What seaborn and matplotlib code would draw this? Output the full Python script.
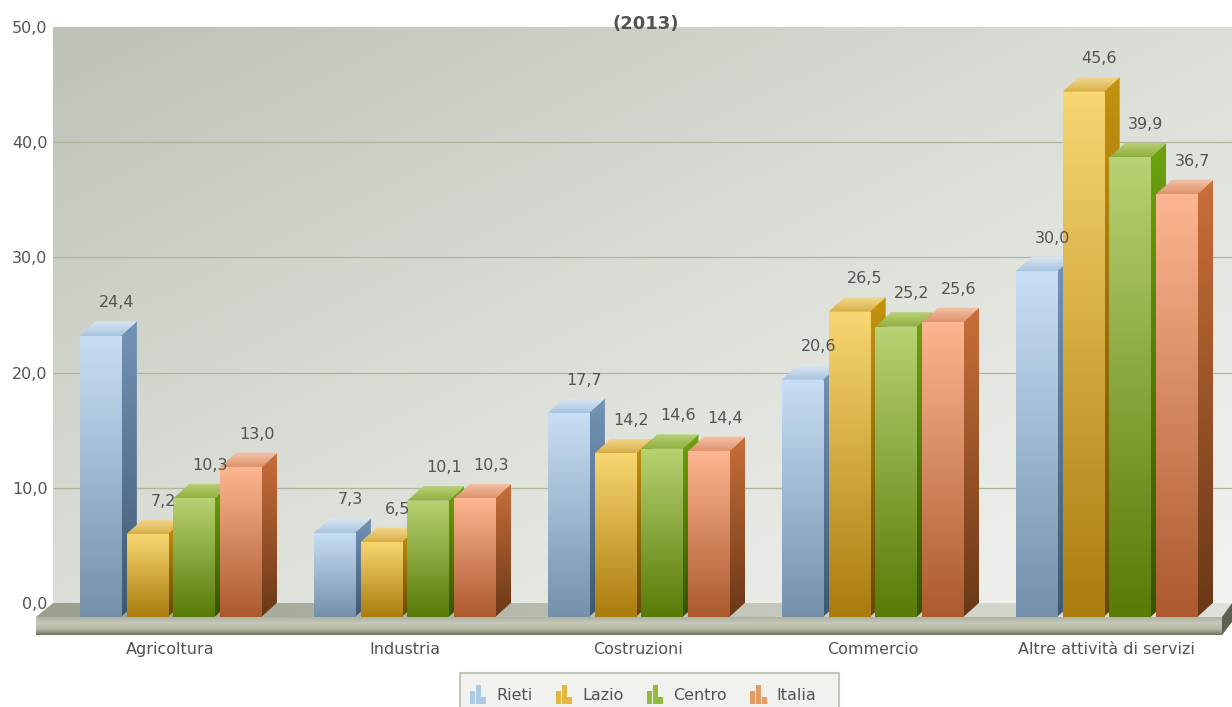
import numpy as np
import pandas as pd
import matplotlib
matplotlib.use("Agg")
import matplotlib.pyplot as plt
import seaborn as sns
from matplotlib.colors import LinearSegmentedColormap
from matplotlib.legend_handler import HandlerBase
from matplotlib.patches import Patch, Polygon, Rectangle

categories = ["Agricoltura", "Industria", "Costruzioni", "Commercio", "Altre attività di servizi"]
series_names = ["Rieti", "Lazio", "Centro", "Italia"]
rieti = [24.4, 7.3, 17.7, 20.6, 30.0]
lazio = [7.2, 6.5, 14.2, 26.5, 45.6]
centro = [10.3, 10.1, 14.6, 25.2, 39.9]
italia = [13.0, 10.3, 14.4, 25.6, 36.7]
y_ticks = [0, 10, 20, 30, 40, 50]
title_text = "(2013)"

# (face top, face bottom, side top, side bottom, roof front, roof back)
shades = {
    "Rieti": ("#c8def4", "#7590ab", "#7394b6", "#3f5870", "#a8c3dd", "#dbe8f5"),
    "Lazio": ("#f8d670", "#aa7c0e", "#c4930f", "#654900", "#d8ae45", "#f3da90"),
    "Centro": ("#b7d272", "#587b06", "#6ea20e", "#375300", "#8fb040", "#b9d078"),
    "Italia": ("#fdb691", "#ac5a2e", "#c96f3a", "#693817", "#dc946c", "#f6c2a8"),
}
TEXT = "#505452"
FONT_SIZE = 11.5
W, H = 1232, 707
PX_PER_UNIT = 11.52
GROUP_PX = 234.0
DEPTH_X_PX, DEPTH_Y_PX = 16.0, 14.5


def fig_rect(left, top, right, bottom):
    return [left / W, 1 - bottom / H, (right - left) / W, (bottom - top) / H]


def ramp(ax, c_start, c_end, extent, z, clip=None, horizontal=False):
    """Paint a two-colour gradient into extent, optionally clipped to a patch."""
    cmap = LinearSegmentedColormap.from_list("ramp", [c_start, c_end])
    g = np.linspace(0, 1, 128)
    g = g[None, :] if horizontal else g[:, None]
    im = ax.imshow(g, cmap=cmap, vmin=0, vmax=1, extent=extent, origin="upper",
                   aspect="auto", zorder=z, interpolation="bilinear")
    if clip is not None:
        im.set_clip_path(clip)
    return im


sns.set_style("white")
plt.rcParams["font.family"] = ["DejaVu Sans"]

long = pd.DataFrame({
    "categoria": categories * 4,
    "serie": np.repeat(series_names, 5),
    "valore": rieti + lazio + centro + italia,
})

fig = plt.figure(figsize=(W / 100, H / 100), dpi=100, facecolor="white")

# Back wall: diagonal shading, gridlines and the value axis
back = fig.add_axes(fig_rect(53, 27, 1232, 603), zorder=1)
u, v_grid = np.meshgrid(np.linspace(0, 1, 400), np.linspace(0, 1, 400))
wall_cmap = LinearSegmentedColormap.from_list("wall", ["#bcc2b7", "#dcdfd8", "#f2f3f0"], N=1024)
back.imshow((u + v_grid) / 2, cmap=wall_cmap, vmin=0, vmax=1, extent=(0, 1, 0, 50), aspect="auto",
            interpolation="bilinear", origin="upper", zorder=0)
back.set_xlim(0, 1)
back.set_ylim(0, 50)
back.set_yticks(y_ticks)
back.set_yticklabels([f"{t:.1f}".replace(".", ",") for t in y_ticks], color=TEXT, fontsize=FONT_SIZE)
back.set_xticks([])
back.tick_params(axis="y", length=0, pad=4)
for t in y_ticks[1:-1]:
    back.axhline(t, color="#afb59a", lw=0.9, zorder=1)
sns.despine(ax=back, left=True, bottom=True, right=True, top=True)
back.set_title(title_text, x=0.503, y=1.0047, va="center", fontsize=13,
               fontweight="bold", color=TEXT, pad=0)

# Floor slab and legend panel, laid out in figure pixels
floor = fig.add_axes([0, 0, 1, 1], zorder=2)
floor.axis("off")
slab = Polygon([(53, 603), (1232, 603), (1222, 617), (36, 617)], closed=True,
               transform=floor.transData, fc="none", ec="none")
floor.add_patch(slab)
ramp(floor, "#9b9f8e", "#dfe2da", (36, 1232, 617, 603), 1, clip=slab, horizontal=True)
band_cmap = LinearSegmentedColormap.from_list("band", ["#aeb29f", "#c6c9ba", "#b4b8a6", "#6d715c"])
floor.imshow(np.linspace(0, 1, 64)[:, None], cmap=band_cmap, extent=(36, 1222, 635, 617),
             aspect="auto", zorder=1, origin="upper", interpolation="bilinear")
floor.add_patch(Polygon([(1222, 617), (1232, 603), (1232, 622), (1222, 635)], closed=True,
                        fc="#5c6151", ec="none", zorder=2))
floor.add_patch(Rectangle((460, 673), 379, 50, fc="#f1f2ee", ec="#c3c7bb", lw=1.5, zorder=2))
floor.set_xlim(0, W)
floor.set_ylim(H, 0)

# Bars sit on the front plane of the floor, same scale as the wall
ax = fig.add_axes(fig_rect(36, 617 - 50 * PX_PER_UNIT, 1222, 617), zorder=3)
ax.patch.set_alpha(0)
sns.barplot(data=long, x="categoria", y="valore", hue="serie", order=categories,
            hue_order=series_names, palette=[shades[s][0] for s in series_names],
            width=0.8, gap=0.12, dodge=True, legend=False, ax=ax, errorbar=None,
            saturation=1)

dx = DEPTH_X_PX / GROUP_PX
dy = DEPTH_Y_PX / PX_PER_UNIT
for s_idx, (name, container) in enumerate(zip(series_names, ax.containers)):
    face_t, face_b, side_t, side_b, roof_f, roof_b = shades[name]
    z = 3 + s_idx
    for bar in container:
        x0, w, v = bar.get_x(), bar.get_width(), bar.get_height()
        x1 = x0 + w
        bar.set_zorder(z + 0.1)
        bar.set_edgecolor("none")

        side = Polygon([(x1, 0), (x1 + dx, dy), (x1 + dx, v + dy), (x1, v)], closed=True,
                       fc="none", ec="none", transform=ax.transData)
        ax.add_patch(side)
        ramp(ax, side_t, side_b, (x1, x1 + dx, 0, v + dy), z + 0.2, clip=side)

        roof = Polygon([(x0, v), (x1, v), (x1 + dx, v + dy), (x0 + dx, v + dy)], closed=True,
                       fc="none", ec="none", transform=ax.transData)
        ax.add_patch(roof)
        ramp(ax, roof_b, roof_f, (x0, x1 + dx, v, v + dy), z + 0.2, clip=roof)

        ramp(ax, face_t, face_b, (x0, x1, 0, v), z + 0.3, clip=bar)

        ax.annotate(f"{v:.1f}".replace(".", ","), (x0 + w / 2, v),
                    xytext=(16 * 0.72, 33 * 0.72), textcoords="offset points",
                    ha="center", va="center", fontsize=FONT_SIZE, color=TEXT, zorder=20)

ax.set_xlim((36 - 170.5) / GROUP_PX, (1222 - 170.5) / GROUP_PX)
ax.set_ylim(0, 50)
ax.set_yticks([])
ax.set_xlabel("")
ax.set_ylabel("")
ax.tick_params(axis="x", length=0, pad=18, labelsize=FONT_SIZE, labelcolor=TEXT)
sns.despine(ax=ax, left=True, bottom=True)


class TripleBarHandler(HandlerBase):
    """Legend key made of three small bars in the series colour."""

    def create_artists(self, legend, orig, xdescent, ydescent, width, height, fontsize, trans):
        base = -ydescent - 3
        parts = []
        for i, h in enumerate((1.1, 1.7, 0.6)):
            parts.append(Rectangle((-xdescent + i * width / 3, base), width / 3 * 0.92, h * height,
                                   fc=orig.get_facecolor(), ec="none", transform=trans))
        return parts


handles = [Patch(fc=c) for c in ("#a9cbe6", "#e3b83f", "#95bb3a", "#e39a63")]
leg = fig.legend(handles, series_names, handler_map={Patch: TripleBarHandler()},
                 loc="center left", bbox_to_anchor=(470 / W, 1 - 695 / H),
                 bbox_transform=fig.transFigure, ncol=4, frameon=False,
                 fontsize=FONT_SIZE, labelcolor=TEXT, handlelength=1.06, handletextpad=0.6,
                 columnspacing=1.45, borderpad=0, borderaxespad=0)
leg.set_zorder(5)

fig.savefig("out.png", dpi=100)
